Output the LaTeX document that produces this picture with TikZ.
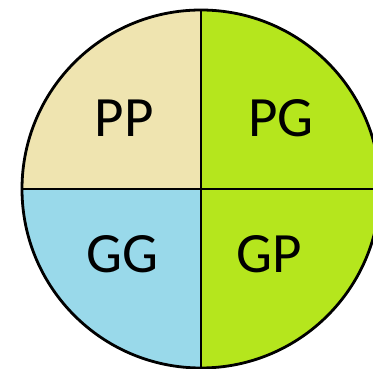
\documentclass[tikz,border=0pt]{standalone}
\usepackage{fontspec}
\setmainfont{Carlito}
\definecolor{tanq}{RGB}{239,228,176}
\definecolor{limeq}{RGB}{181,230,29}
\definecolor{blueq}{RGB}{153,217,234}
\tikzset{
  lbl/.style={inner sep=0pt, font=\fontsize{57}{60}\selectfont, text=black},
  divider/.style={line width=2.6pt, black},
  rim/.style={line width=2.8pt, black}
}
\begin{document}
\begin{tikzpicture}[x=1pt,y=1pt]
\useasboundingbox (0,0) rectangle (373,369);
\clip (0,0) rectangle (373,369);
\coordinate (c) at (201,180);
\begin{scope}
  \clip (c) circle (179);
  \fill[tanq] (c) rectangle (0,369);
  \fill[limeq] (c) rectangle (390,369);
  \fill[blueq] (c) rectangle (0,-10);
  \fill[limeq] (c) rectangle (390,-10);
  \draw[divider] (201,-10) -- (201,369);
  \draw[divider] (0,180) -- (390,180);
\end{scope}
\draw[rim] (c) circle (179);
\node[lbl] (pp) at (124,251) {PP};
\node[lbl] (pg) at (281,251) {PG};
\node[lbl] (gg) at (122,115) {GG};
\node[lbl] (gp) at (269,115) {GP};
\end{tikzpicture}
\end{document}
